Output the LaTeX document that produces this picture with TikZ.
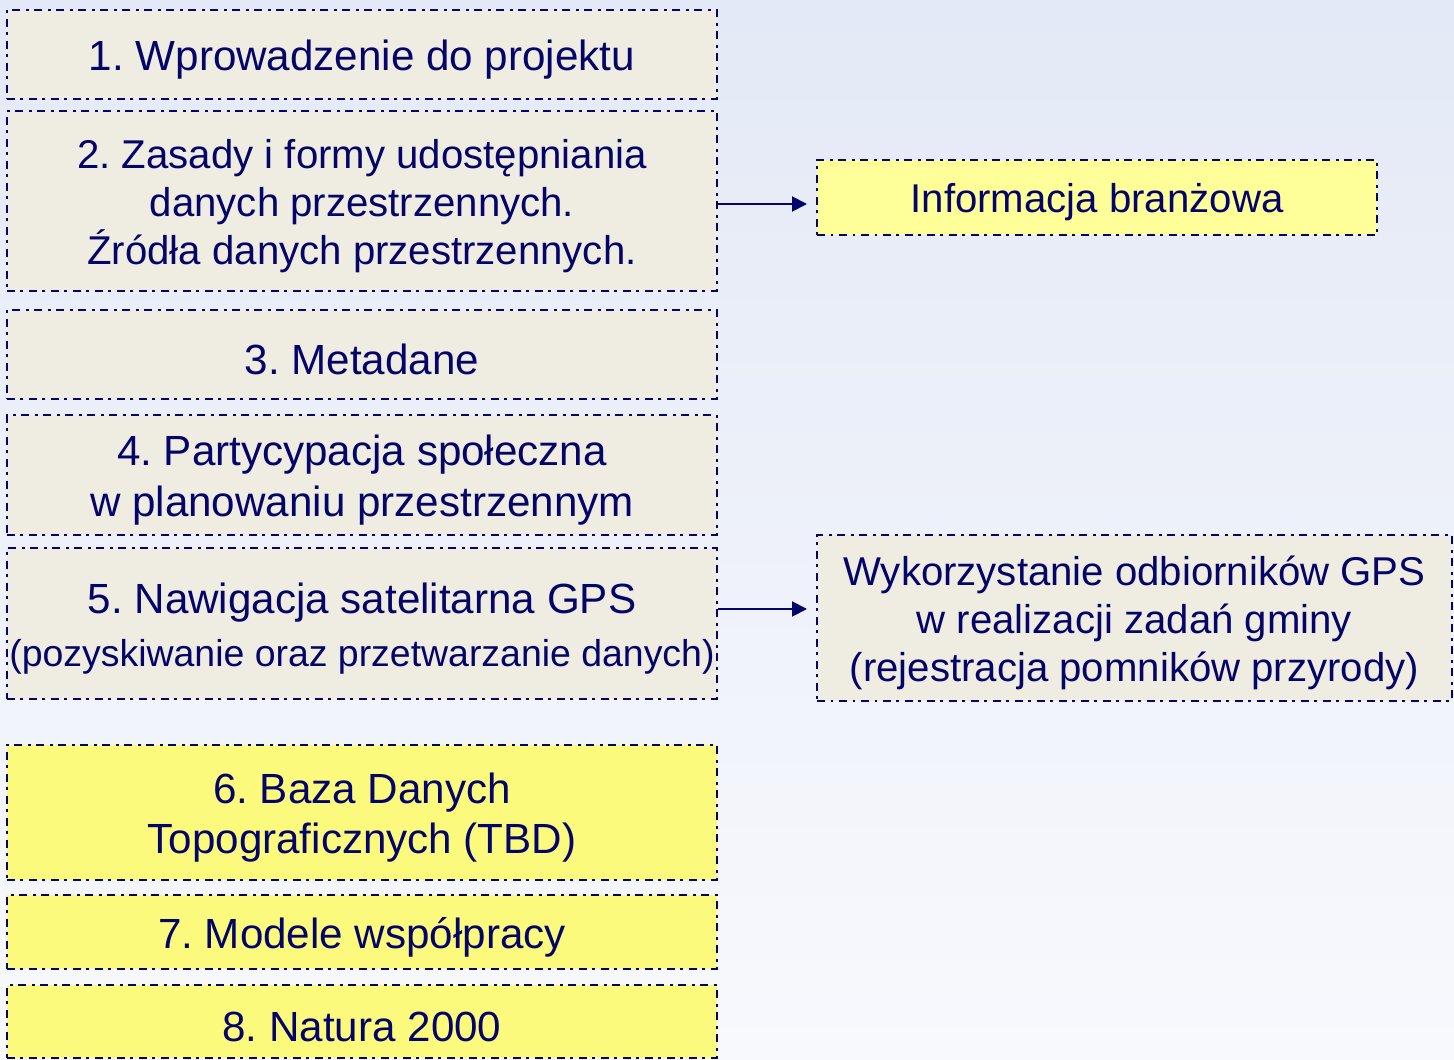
\documentclass[tikz,border=0pt]{standalone}
\usepackage{fontspec}
\setmainfont{Liberation Sans}
\usetikzlibrary{arrows.meta}
\definecolor{navy}{RGB}{5,5,105}
\definecolor{beige}{RGB}{239,236,225}
\definecolor{lemon}{RGB}{255,255,153}
\definecolor{lemondark}{RGB}{251,250,125}
\definecolor{bgtop}{RGB}{227,233,246}
\definecolor{bgbot}{RGB}{248,249,253}
\frenchspacing
% strut that lowers the text a little, as in the slide
\newcommand{\lift}{\rule{0pt}{0.97em}}
\begin{document}
\begin{tikzpicture}[
  box/.style={rectangle, draw=navy, line width=0.02cm, text=navy, align=center,
    dash pattern=on 0.08cm off 0.055cm on 0.025cm off 0.06cm,
    font=\fontsize{11.43}{13.66}\selectfont, inner sep=0pt},
  topic/.style={box, fill=beige, minimum width=7.1cm, font=\fontsize{12}{14.3}\selectfont},
  extra/.style={topic, fill=lemondark},
  arr/.style={-{Triangle[length=0.15cm,width=0.15cm]}, draw=navy, line width=0.02cm, shorten >=0.09cm}
]
  % Background
  \shade[top color=bgtop, bottom color=bgbot] (0,0) rectangle (14.54,-10.60);
  \useasboundingbox (0,0) rectangle (14.54,-10.60);
  % Nodes
  \node (m-1) [topic, minimum height=0.89cm] at (3.62, -0.545) {\lift 1. Wprowadzenie do projektu};
  \node (m-2) [topic, minimum height=1.80cm, font=\fontsize{11.43}{13.66}\selectfont] at (3.62, -2.01) {\lift 2. Zasady i formy udostępniania\\danych przestrzennych.\\Źródła danych przestrzennych.};
  \node (m-3) [topic, minimum height=0.89cm] at (3.62, -3.545) {\lift 3. Metadane};
  \node (m-4) [topic, minimum height=1.20cm] at (3.62, -4.75) {\lift 4. Partycypacja społeczna\\w planowaniu przestrzennym};
  \node (m-5) [topic, minimum height=1.51cm] at (3.62, -6.235) {\lift 5. Nawigacja satelitarna GPS\\[0.03cm]{\fontsize{10.65}{12}\selectfont(pozyskiwanie oraz przetwarzanie danych)}};
  \node (m-6) [extra, minimum height=1.35cm] at (3.62, -8.125) {\lift 6. Baza Danych\\Topograficznych (TBD)};
  \node (m-7) [extra, minimum height=0.74cm] at (3.62, -9.32) {\lift 7. Modele współpracy};
  \node (m-8) [extra, minimum height=0.73cm] at (3.62, -10.215) {\lift 8. Natura 2000};
  \node (i-a) [box, fill=lemon, minimum height=0.75cm, minimum width=5.6cm] at (10.97, -1.975) {\lift Informacja branżowa};
  \node (i-b) [box, fill=beige, minimum height=1.66cm, minimum width=6.35cm] at (11.345, -6.18) {\lift Wykorzystanie odbiorników GPS\\w realizacji zadań gminy\\(rejestracja pomników przyrody)};
  % Arrow
  \draw[arr] ([yshift=-0.03cm]m-2.east) -- ([yshift=-0.03cm]m-2.east -| i-a.west);
  \draw[arr] ([yshift=0.145cm]m-5.east) -- ([yshift=0.145cm]m-5.east -| i-b.west);
\end{tikzpicture}
\end{document}
